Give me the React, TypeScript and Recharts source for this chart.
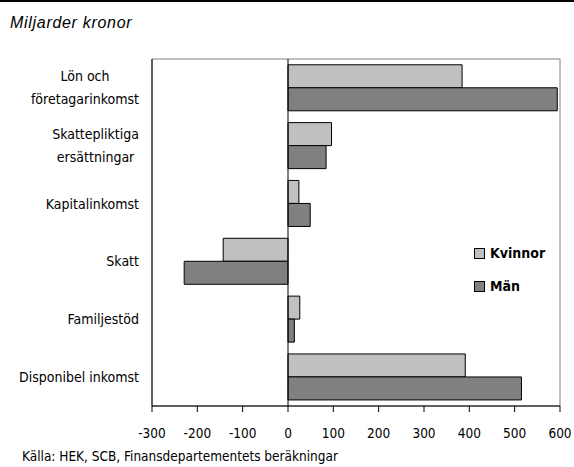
import React from 'react';
import { BarChart, Bar, XAxis, YAxis, ReferenceLine, ReferenceArea } from 'recharts';

const categories = [
  'Lön och\nföretagarinkomst',
  'Skattepliktiga\nersättningar',
  'Kapitalinkomst',
  'Skatt',
  'Familjestöd',
  'Disponibel inkomst',
];
const kvinnor = [384, 96, 24, -143, 26, 391];
const man = [594, 84, 49, -229, 14, 515];
const xTicks = [-300, -200, -100, 0, 100, 200, 300, 400, 500, 600];
const seriesNames = ['Kvinnor', 'Män'];
const seriesColors = ['#c0c0c0', '#808080'];

const data = categories.map((c, i) => ({ name: c, Kvinnor: kvinnor[i], Män: man[i] }));

const NARROW = '"DejaVu Sans Condensed", "Liberation Sans Narrow", sans-serif';
const FS = 14;

let ctx: CanvasRenderingContext2D | null = null;
function measure(t: string): number {
  if (!ctx) {
    const c = document.createElement('canvas');
    ctx = c.getContext('2d');
  }
  if (!ctx) return t.length * 6.5;
  ctx.font = `${FS}px ${NARROW}`;
  return ctx.measureText(t).width;
}

const CatTick = (props: any) => {
  const { x, y, payload } = props;
  const lines: string[] = String(payload.value).split('\n');
  if (lines.length === 1) {
    return (
      <text x={x} y={y} dy={5} textAnchor="end" fontSize={FS} fontFamily={NARROW} fill="#000">
        {lines[0]}
      </text>
    );
  }
  const maxW = Math.max(...lines.map(measure));
  const cx = x - maxW / 2;
  const lh = 23;
  const start = y - ((lines.length - 1) * lh) / 2 + 5;
  return (
    <text textAnchor="middle" fontSize={FS} fontFamily={NARROW} fill="#000">
      {lines.map((l, i) => (
        <tspan key={i} x={cx} y={start + i * lh}>{l}</tspan>
      ))}
    </text>
  );
};

export default function App() {
  return (
    <div style={{ position: 'absolute', left: 0, top: 0, width: 574, height: 467, background: '#fff', overflow: 'hidden' }}>
      <div style={{ position: 'absolute', left: 0, top: 0, width: 574, height: 2, background: '#000' }} />
      <div style={{ position: 'absolute', left: 10, top: 13, fontFamily: '"Liberation Sans", Arial, sans-serif', fontStyle: 'italic', fontSize: 16, letterSpacing: 0.7, color: '#000', whiteSpace: 'nowrap', lineHeight: '20px' }}>
        Miljarder kronor
      </div>
      <div style={{ position: 'absolute', left: 0, top: 0 }}>
        <BarChart
          width={574}
          height={467}
          data={data}
          layout="vertical"
          margin={{ top: 59, right: 14, bottom: 31, left: 0 }}
          barCategoryGap="10%"
          barGap={0}
        >
          <ReferenceArea x1={-300} x2={600} fill="none" stroke="#808080" strokeWidth={1} ifOverflow="extendDomain" />
          <XAxis
            type="number"
            domain={[-300, 600]}
            ticks={xTicks}
            interval={0}
            height={30}
            axisLine={{ stroke: '#000' }}
            tickLine={{ stroke: '#000' }}
            tickSize={6}
            tickMargin={16}
            tick={{ fill: '#000', fontSize: 13.5, fontFamily: NARROW }}
          />
          <YAxis
            type="category"
            dataKey="name"
            width={152}
            axisLine={{ stroke: '#000' }}
            tickLine={false}
            tickSize={0}
            tickMargin={13}
            interval={0}
            tick={<CatTick />}
          />
          <Bar dataKey="Kvinnor" fill={seriesColors[0]} stroke="#000" strokeWidth={1} isAnimationActive={false} />
          <Bar dataKey="Män" fill={seriesColors[1]} stroke="#000" strokeWidth={1} isAnimationActive={false} />
          <ReferenceLine x={0} stroke="#000" strokeWidth={1} />
        </BarChart>
      </div>
      <div style={{ position: 'absolute', left: 474, top: 245, fontFamily: NARROW, fontSize: FS, fontWeight: 'bold', color: '#000' }}>
        {seriesNames.map((n, i) => (
          <div key={i} style={{ display: 'flex', alignItems: 'center', height: 16, marginBottom: i === 0 ? 17 : 0 }}>
            <span style={{ display: 'inline-block', width: 9, height: 9, background: seriesColors[i], border: '1px solid #000', marginRight: 5 }} />
            <span>{n}</span>
          </div>
        ))}
      </div>
      <div style={{ position: 'absolute', left: 22, top: 448, fontFamily: NARROW, fontSize: 13.5, color: '#000', whiteSpace: 'nowrap', lineHeight: '17px' }}>
        Källa: HEK, SCB, Finansdepartementets beräkningar
      </div>
    </div>
  );
}
